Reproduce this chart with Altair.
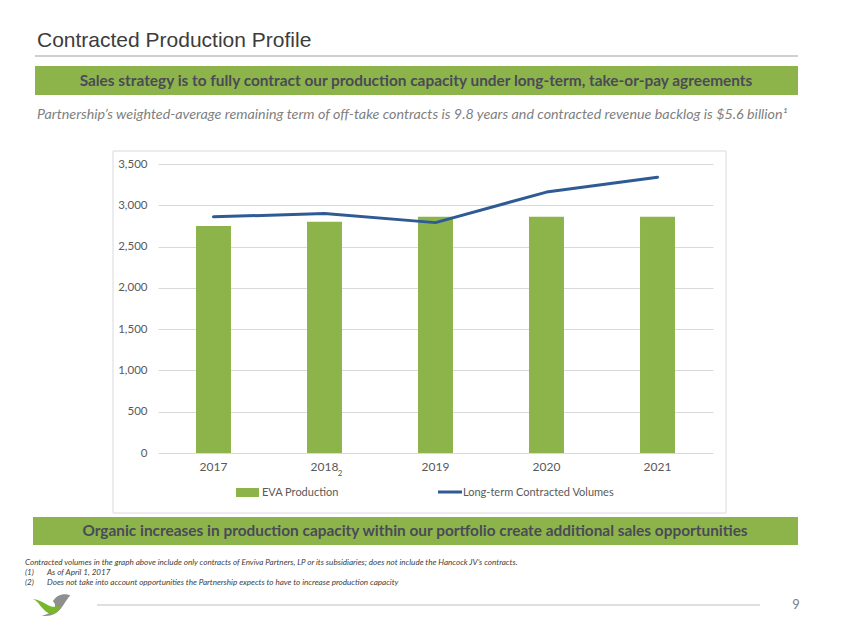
import altair as alt
import pandas as pd

# ---------------- data ----------------
years = ["2017", "2018", "2019", "2020", "2021"]
eva_production = [2750, 2800, 2860, 2860, 2860]
contracted_volumes = [2860, 2900, 2790, 3160, 3340]
y_ticks = [0, 500, 1000, 1500, 2000, 2500, 3000, 3500]
legend_labels = ["EVA Production", "Long-term Contracted Volumes"]

title_text = "Contracted Production Profile"
banner_top = ("Sales strategy is to fully contract our production capacity "
              "under long-term, take-or-pay agreements")
subtitle = ("Partnership\u2019s weighted-average remaining term of off-take contracts "
            "is 9.8 years and contracted revenue backlog is $5.6 billion\u00b9")
banner_bottom = ("Organic increases in production capacity within our portfolio "
                 "create additional sales opportunities")
footnote_main = ("Contracted volumes in the graph above include only contracts of Enviva "
                 "Partners, LP or its subsidiaries; does not include the Hancock JV\u2019s contracts.")
footnote_marks = ["(1)", "(2)"]
footnote_texts = ["As of April 1, 2017",
                  "Does not take into account opportunities the Partnership expects to have to increase production capacity"]
page_number = "9"
logo_parts = ["a_gray", "b_green"]

df = pd.DataFrame({"year": years, "eva": eva_production, "contracted": contracted_volumes})

GREEN = "#8db44a"
BLUE = "#2f5b95"
GRID = "#d9d9d9"

# page coordinates of plot origin (incl. 8px page margin)
PX0, PY0 = 158, 164


def px(x):
    return x - PX0


def py(y):
    return y - PY0


one = pd.DataFrame({"k": [0]})


def text(t, x, y, size, color, font="Lato", weight="normal", style="normal",
         align="left", baseline="middle"):
    return alt.Chart(one).mark_text(
        text=t, font=font, fontSize=size, color=color, fontWeight=weight,
        fontStyle=style, align=align, baseline=baseline
    ).encode(x=alt.value(px(x)), y=alt.value(py(y)))


def rect(x1, y1, x2, y2, fill="transparent", stroke="transparent", sw=1):
    return alt.Chart(one).mark_rect(fill=fill, stroke=stroke, strokeWidth=sw).encode(
        x=alt.value(px(x1)), x2=alt.value(px(x2)),
        y=alt.value(py(y1)), y2=alt.value(py(y2)))


def hline(x1, x2, y, color, sw=1, cap="butt"):
    return alt.Chart(one).mark_rule(color=color, strokeWidth=sw, strokeCap=cap).encode(
        x=alt.value(px(x1)), x2=alt.value(px(x2)), y=alt.value(py(y)))


# ---------------- chart ----------------
x_enc = alt.X("year:N", sort=years, title=None,
              scale=alt.Scale(paddingInner=0.685, paddingOuter=0.3425),
              axis=alt.Axis(labelAngle=0, domain=False, ticks=False, grid=False,
                            labelPadding=8, labelFont="Lato", labelFontSize=12,
                            labelColor="#595959"))

y_scale = alt.Scale(domain=[0, 3500], nice=False, zero=True)
y_axis = alt.Axis(values=y_ticks, format=",.0f", domain=False, ticks=False,
                  gridColor=GRID, gridWidth=1, labelPadding=11,
                  labelFont="Lato", labelFontSize=11.5, labelColor="#595959")

bars = alt.Chart(df).mark_bar(color=GREEN).encode(
    x=x_enc,
    y=alt.Y("eva:Q", scale=y_scale, title=None, axis=y_axis),
)

line = alt.Chart(df).mark_line(color=BLUE, strokeWidth=3, strokeJoin="round",
                               strokeCap="round").encode(
    x=alt.X("year:N", sort=years),
    y=alt.Y("contracted:Q", scale=y_scale, title=None, axis=y_axis),
)

chart_border = rect(113, 151, 726, 513, stroke=GRID, sw=1)

# logo: two swooshes drawn as custom symbols
gray_path = ("M -0.5 0.58 C -0.1 0.66 0.35 0.5 0.6 0.1 C 0.8 -0.2 0.95 -0.45 1.05 -0.52 "
             "C 0.7 -0.68 0.3 -0.55 0.1 -0.2 C 0.3 -0.02 0.25 0.22 0.0 0.38 "
             "C -0.2 0.5 -0.35 0.55 -0.5 0.58 Z")
green_path = ("M -1 -0.32 C -0.7 -0.28 -0.5 0.3 -0.1 0.46 C 0.2 0.56 0.48 0.32 0.52 0.02 "
              "C 0.3 0.14 0.05 0.12 -0.2 -0.02 C -0.5 -0.18 -0.75 -0.32 -1 -0.32 Z")
logo_df = pd.DataFrame({"part": logo_parts})
logo = alt.Chart(logo_df).mark_point(filled=True, opacity=1, size=1369, strokeWidth=0).encode(
    x=alt.value(px(51)), y=alt.value(py(605)),
    shape=alt.Shape("part:N", scale=alt.Scale(domain=logo_parts, range=[gray_path, green_path]),
                    legend=None),
    color=alt.Color("part:N", scale=alt.Scale(domain=logo_parts, range=["#8f8f8f", "#78b72a"]),
                    legend=None),
    order=alt.Order("part:N", sort="ascending"),
)

decor = [
    # header
    text(title_text, 37, 47, 21, "#3c3c3c", font="Liberation Sans", baseline="alphabetic"),
    hline(35, 798, 56, "#bfbfbf", 1.5),
    rect(35, 66, 798, 95, fill=GREEN),
    text(banner_top, 416, 81, 15.4, "#4a4a58", weight="bold", align="center"),
    text(subtitle, 37, 115, 14.3, "#7f7f7f", style="italic"),
    # subscript on 2018 label
    text("2", 340, 473.5, 8, "#595959", align="center"),
    # legend
    rect(236, 488, 259, 497, fill=GREEN),
    text(legend_labels[0], 262, 492.5, 11, "#595959"),
    hline(438, 462, 492, BLUE, 3),
    text(legend_labels[1], 463, 492.5, 11, "#595959"),
    # bottom banner
    rect(33, 517, 798, 545, fill=GREEN),
    text(banner_bottom, 415, 531, 15.4, "#4a4a58", weight="bold", align="center"),
    # footnotes
    text(footnote_main, 25, 562.5, 8.1, "#404040", style="italic"),
    text(footnote_marks[0], 25, 572.5, 8.1, "#404040", style="italic"),
    text(footnote_texts[0], 47, 572.5, 8.1, "#404040", style="italic"),
    text(footnote_marks[1], 25, 582.5, 8.1, "#404040", style="italic"),
    text(footnote_texts[1], 47, 582.5, 8.1, "#404040", style="italic"),
    # footer
    hline(97, 760, 605, "#bfbfbf", 1),
    text(page_number, 796, 605, 13, "#808080", align="center"),
    logo,
]

chart = alt.layer(chart_border, bars, line, *decor).properties(
    width=555, height=289,
    padding={"left": 150, "top": 156, "right": 126, "bottom": 174},
    autosize=alt.AutoSizeParams(type="none"),
).configure_view(stroke=None)

chart.save("out.html", embed_options={"renderer": "svg", "actions": False})
